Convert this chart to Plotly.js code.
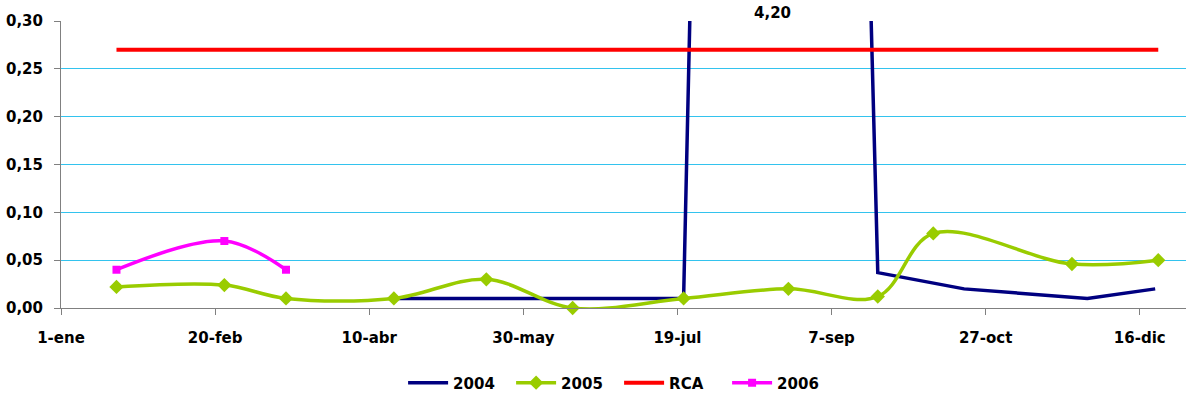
<!DOCTYPE html>
<html>
<head>
<meta charset="utf-8">
<script src="https://cdn.plot.ly/plotly-3.0.1.min.js"></script>
<style>
html,body{margin:0;padding:0;background:#fff;}
#chart{width:1186px;height:396px;}
</style>
</head>
<body>
<div id="chart"></div>
<script>
// Series data (dates in a leap year so ticks every 50 days match the reference)
const dates2004 = ['2004-04-18','2004-06-15','2004-07-21','2004-08-19','2004-09-22','2004-10-20','2004-11-29','2004-12-21'];
const values2004 = [0.01, 0.01, 0.01, 4.20, 0.037, 0.02, 0.01, 0.02];

const dates2005 = ['2004-01-19','2004-02-23','2004-03-14','2004-04-18','2004-05-18','2004-06-15','2004-07-21','2004-08-24','2004-09-22','2004-10-10','2004-11-24','2004-12-22'];
const values2005 = [0.022, 0.024, 0.01, 0.01, 0.03, 0.0, 0.01, 0.02, 0.012, 0.078, 0.046, 0.05];

const datesRCA = ['2004-01-19','2004-02-23','2004-03-14','2004-04-18','2004-05-18','2004-06-15','2004-07-21','2004-08-19','2004-09-22','2004-10-10','2004-11-24','2004-12-22'];
const valuesRCA = [0.27, 0.27, 0.27, 0.27, 0.27, 0.27, 0.27, 0.27, 0.27, 0.27, 0.27, 0.27];

const dates2006 = ['2004-01-19','2004-02-23','2004-03-14'];
const values2006 = [0.04, 0.07, 0.04];

const xTickVals = ['2004-01-01','2004-02-20','2004-04-10','2004-05-30','2004-07-19','2004-09-07','2004-10-27','2004-12-16'];
const xTickText = ['1-ene','20-feb','10-abr','30-may','19-jul','7-sep','27-oct','16-dic'];
const yTickVals = [0, 0.05, 0.10, 0.15, 0.20, 0.25, 0.30];
const yTickText = ['0,00','0,05','0,10','0,15','0,20','0,25','0,30'];

const FONT = 'DejaVu Sans, Liberation Sans, Arial, sans-serif';

const traces = [
  {x: dates2004, y: values2004, name: '2004', type: 'scatter', mode: 'lines',
   line: {color: '#000080', width: 3.5}},
  {x: dates2005, y: values2005, name: '2005', type: 'scatter', mode: 'lines+markers',
   line: {color: '#99CC00', width: 3.5, shape: 'spline', smoothing: 1},
   marker: {symbol: 'diamond', size: 11, color: '#99CC00'}, cliponaxis: false},
  {x: datesRCA, y: valuesRCA, name: 'RCA', type: 'scatter', mode: 'lines',
   line: {color: '#FF0000', width: 4}},
  {x: dates2006, y: values2006, name: '2006', type: 'scatter', mode: 'lines+markers',
   line: {color: '#FF00FF', width: 3.5, shape: 'spline', smoothing: 1},
   marker: {symbol: 'square', size: 8, color: '#FF00FF'}}
];

// label for the clipped peak of 2004
let peakIdx = 0;
values2004.forEach((v, i) => { if (v > values2004[peakIdx]) peakIdx = i; });
const peakText = values2004[peakIdx].toFixed(2).replace('.', ',');

const layout = {
  width: 1186, height: 396,
  margin: {l: 61, r: 0, t: 20.5, b: 87.5},
  paper_bgcolor: '#ffffff', plot_bgcolor: '#ffffff',
  font: {family: FONT, size: 15, color: '#000'},
  showlegend: true,
  legend: {orientation: 'h', xref: 'container', yref: 'container',
           x: 0.522, xanchor: 'center', y: 0.033, yanchor: 'middle',
           font: {family: FONT, size: 15, color: '#000', weight: 'bold'},
           itemwidth: 40, tracegroupgap: 0, entrywidth: 53},
  xaxis: {type: 'date', range: ['2004-01-01', '2004-12-31'],
          tickmode: 'array', tickvals: xTickVals, ticktext: xTickText,
          showgrid: false, zeroline: false, showline: true, linecolor: '#808080', linewidth: 1,
          ticks: 'outside', ticklen: 6, tickcolor: '#808080',
          tickfont: {family: FONT, size: 15, color: '#000', weight: 'bold'},
          ticklabelstandoff: 10},
  yaxis: {range: [0, 0.30], tickmode: 'array', tickvals: yTickVals, ticktext: yTickText,
          showgrid: true, gridcolor: '#33C3EE', gridwidth: 1,
          zeroline: false, showline: true, linecolor: '#808080', linewidth: 1,
          ticks: 'outside', ticklen: 6, tickcolor: '#808080',
          tickfont: {family: FONT, size: 15, color: '#000', weight: 'bold'},
          ticklabelstandoff: 8},
  annotations: [{x: dates2004[peakIdx], y: 1, xref: 'x', yref: 'paper', yanchor: 'middle',
                 yshift: 8, text: peakText, showarrow: false,
                 font: {family: FONT, size: 15, color: '#000', weight: 'bold'}}]
};

Plotly.newPlot('chart', traces, layout, {displayModeBar: false, staticPlot: true});
</script>
</body>
</html>
